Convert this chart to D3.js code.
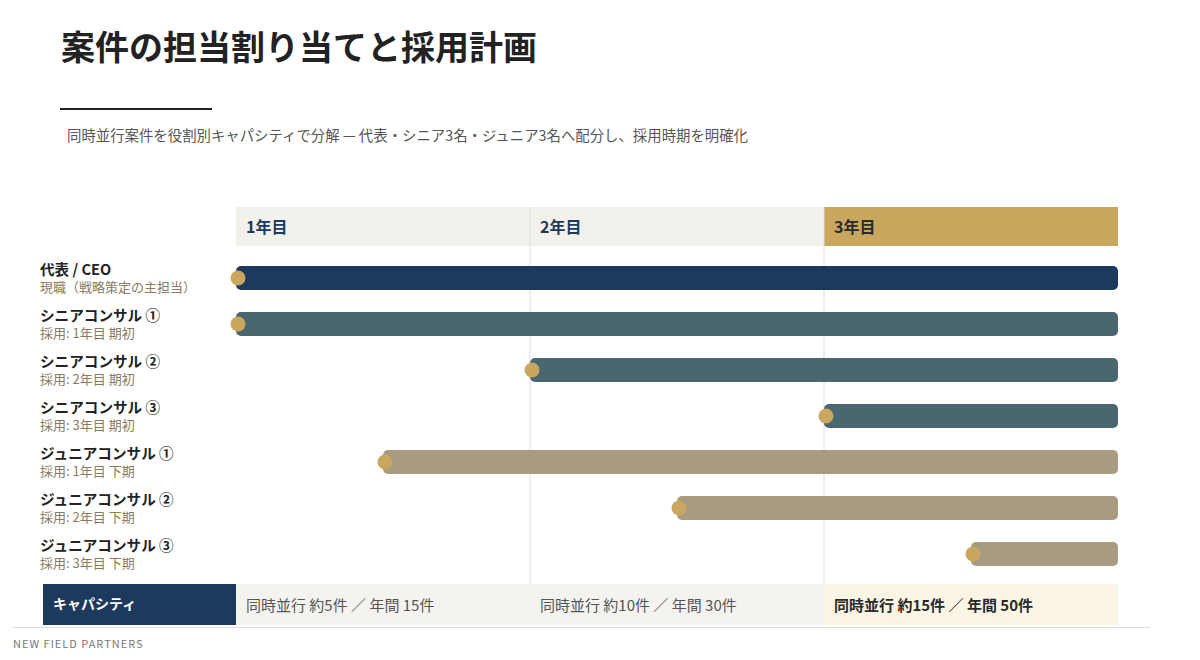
<!DOCTYPE html>
<html>
<head>
<meta charset="utf-8">
<script src="https://cdn.jsdelivr.net/npm/d3@7"></script>
<style>
  body { margin: 0; background: #fff; }
  svg { font-family: "Noto Sans CJK JP", "Noto Sans", sans-serif; }
</style>
</head>
<body>
<svg width="1200" height="660"></svg>
<script>
// data
var years = ["1年目", "2年目", "3年目"];
var roles = ["代表 / CEO", "シニアコンサル ①", "シニアコンサル ②", "シニアコンサル ③",
             "ジュニアコンサル ①", "ジュニアコンサル ②", "ジュニアコンサル ③"];
var notes = ["現職（戦略策定の主担当）", "採用: 1年目 期初", "採用: 2年目 期初", "採用: 3年目 期初",
             "採用: 1年目 下期", "採用: 2年目 下期", "採用: 3年目 下期"];
var groups = ["ceo", "senior", "senior", "senior", "junior", "junior", "junior"];
var startYear = [0, 0, 1, 2, 0.5, 1.5, 2.5];
var endYear = [3, 3, 3, 3, 3, 3, 3];
var capacity = ["同時並行 約5件 ／ 年間 15件", "同時並行 約10件 ／ 年間 30件", "同時並行 約15件 ／ 年間 50件"];

var colors = { ceo: "#1d3a5c", senior: "#4a6670", junior: "#a89b80" };
var gold = "#c9a75e";

var svg = d3.select("svg");

// title block
svg.append("text").attr("x", 61).attr("y", 60)
  .attr("font-size", 34).attr("font-weight", 700).attr("fill", "#222")
  .text("案件の担当割り当てと採用計画");
svg.append("rect").attr("x", 60).attr("y", 108).attr("width", 152).attr("height", 2).attr("fill", "#222");
svg.append("text").attr("x", 67).attr("y", 141)
  .attr("font-size", 14.4).attr("fill", "#555")
  .text("同時並行案件を役割別キャパシティで分解 — 代表・シニア3名・ジュニア3名へ配分し、採用時期を明確化");

var x = d3.scaleLinear().domain([0, 3]).range([236, 1118]);
var y = d3.scaleBand().domain(d3.range(roles.length)).range([255, 577]).paddingInner(0.48).paddingOuter(0.24);

// header band
var head = svg.append("g");
head.selectAll("rect").data(years).enter().append("rect")
  .attr("x", function(d, i) { return x(i); })
  .attr("y", 207)
  .attr("width", function(d, i) { return x(i + 1) - x(i); })
  .attr("height", 39)
  .attr("fill", function(d, i) { return i == 2 ? gold : "#f3f1ec"; });
head.selectAll("text").data(years).enter().append("text")
  .attr("x", function(d, i) { return x(i) + 10; })
  .attr("y", 233)
  .attr("font-size", 16).attr("font-weight", 700)
  .attr("fill", function(d, i) { return i == 2 ? "#2a2a2a" : "#1d3a5c"; })
  .text(function(d) { return d; });

// gridlines at year boundaries
svg.append("g").selectAll("line").data([1, 2]).enter().append("line")
  .attr("x1", function(d) { return x(d); }).attr("x2", function(d) { return x(d); })
  .attr("y1", 207).attr("y2", 584)
  .attr("stroke", "#dcdcdc").attr("stroke-width", 1);

// row labels
var lab = svg.append("g");
lab.selectAll("text.name").data(roles).enter().append("text")
  .attr("class", "name")
  .attr("x", 40)
  .attr("y", function(d, i) { return y(i) + y.bandwidth() / 2 - 3; })
  .attr("font-size", 14.6).attr("font-weight", 700).attr("fill", "#222")
  .text(function(d) { return d; });
lab.selectAll("text.note").data(notes).enter().append("text")
  .attr("class", "note")
  .attr("x", 40)
  .attr("y", function(d, i) { return y(i) + y.bandwidth() / 2 + 14; })
  .attr("font-size", 13).attr("fill", "#8a7b5e")
  .text(function(d) { return d; });

// bars
var bars = svg.append("g");
bars.selectAll("rect").data(roles).enter().append("rect")
  .attr("x", function(d, i) { return x(startYear[i]); })
  .attr("y", function(d, i) { return y(i); })
  .attr("width", function(d, i) { return x(endYear[i]) - x(startYear[i]); })
  .attr("height", y.bandwidth())
  .attr("rx", 5)
  .attr("fill", function(d, i) { return colors[groups[i]]; });
bars.selectAll("circle").data(roles).enter().append("circle")
  .attr("cx", function(d, i) { return x(startYear[i]) + 2; })
  .attr("cy", function(d, i) { return y(i) + y.bandwidth() / 2; })
  .attr("r", 7.5)
  .attr("fill", gold);

// capacity row
var cap = svg.append("g");
cap.append("rect").attr("x", 43).attr("y", 584).attr("width", x(0) - 43).attr("height", 41).attr("fill", "#1d3a5c");
cap.append("text").attr("x", 53).attr("y", 609)
  .attr("font-size", 14).attr("font-weight", 700).attr("fill", "#fff")
  .text("キャパシティ");
cap.selectAll("rect.cell").data(capacity).enter().append("rect")
  .attr("class", "cell")
  .attr("x", function(d, i) { return x(i); })
  .attr("y", 584)
  .attr("width", function(d, i) { return x(i + 1) - x(i); })
  .attr("height", 41)
  .attr("fill", function(d, i) { return i == 2 ? "#fbf5e6" : "#f4f3f0"; });
cap.selectAll("text.cell").data(capacity).enter().append("text")
  .attr("class", "cell")
  .attr("x", function(d, i) { return x(i) + 10; })
  .attr("y", 611)
  .attr("font-size", 15)
  .attr("font-weight", function(d, i) { return i == 2 ? 700 : 400; })
  .attr("fill", function(d, i) { return i == 2 ? "#2a2a2a" : "#555"; })
  .text(function(d) { return d; });

// footer
svg.append("line").attr("x1", 13).attr("x2", 1150).attr("y1", 627.5).attr("y2", 627.5)
  .attr("stroke", "#dddddd").attr("stroke-width", 1);
svg.append("text").attr("x", 13).attr("y", 648)
  .attr("font-size", 11).attr("letter-spacing", 1).attr("fill", "#777")
  .text("NEW FIELD PARTNERS");
</script>
</body>
</html>
